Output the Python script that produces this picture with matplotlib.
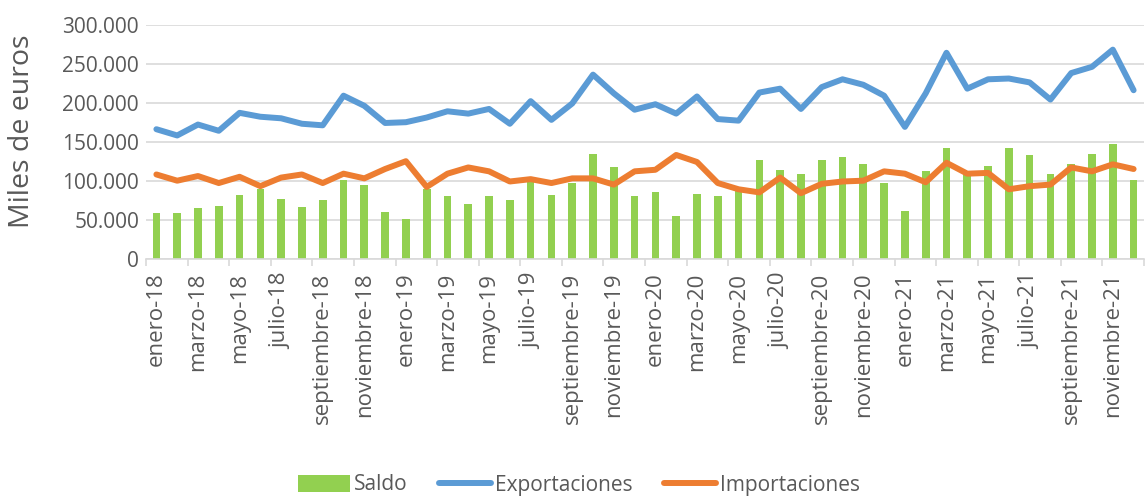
import matplotlib
matplotlib.use("Agg")
import matplotlib.pyplot as plt
from matplotlib.ticker import FuncFormatter
import numpy as np

months = ["enero", "febrero", "marzo", "abril", "mayo", "junio", "julio",
          "agosto", "septiembre", "octubre", "noviembre", "diciembre"]
years = ["18", "19", "20", "21"]
categories = [f"{m}-{y}" for y in years for m in months]

saldo = [58, 58, 65, 67, 82, 90, 76, 66, 75, 101, 94, 60, 51, 90, 80, 70,
         81, 75, 99, 82, 97, 134, 118, 80, 85, 55, 83, 81, 88, 127, 114, 109,
         126, 131, 122, 97, 61, 112, 142, 109, 119, 142, 133, 108, 121, 134, 147, 101]
exportaciones = [166, 158, 172, 164, 187, 182, 180, 173, 171, 209, 196, 174,
                 175, 181, 189, 186, 192, 173, 202, 178, 199, 236, 212, 191,
                 198, 186, 208, 179, 177, 213, 218, 192, 220, 230, 223, 209,
                 169, 212, 264, 218, 230, 231, 226, 204, 238, 246, 268, 216]
importaciones = [108, 100, 106, 97, 105, 93, 104, 108, 97, 109, 103, 115,
                 125, 92, 109, 117, 112, 99, 102, 97, 103, 103, 95, 112,
                 114, 133, 124, 97, 89, 85, 104, 84, 96, 99, 100, 112,
                 109, 98, 123, 109, 110, 89, 93, 95, 117, 112, 121, 115]
scale = 1000  # values read in thousands of "miles de euros"

yticks = [0, 50000, 100000, 150000, 200000, 250000, 300000]

GREEN = "#92D050"
BLUE = "#5B9BD5"
ORANGE = "#ED7D31"
GRID = "#D9D9D9"
TXT = "#595959"

plt.rcParams['font.family'] = ['Open Sans', 'DejaVu Sans']

fig = plt.figure(figsize=(11.45, 4.96), dpi=100)
ax = fig.add_axes([146/1145, 1-258.7/496, 998/1145, 234/496])

x = np.arange(len(categories))
b = ax.bar(x, np.array(saldo) * scale, width=0.37, color=GREEN, label="Saldo", zorder=2)
l1, = ax.plot(x, np.array(exportaciones) * scale, color=BLUE, lw=4.3, label="Exportaciones",
              zorder=3, solid_joinstyle='round', solid_capstyle='round')
l2, = ax.plot(x, np.array(importaciones) * scale, color=ORANGE, lw=4.3, label="Importaciones",
              zorder=3, solid_joinstyle='round', solid_capstyle='round')

ax.set_xlim(-0.5, len(categories) - 0.5)
ax.set_ylim(0, 300000)
ax.set_yticks(yticks)
ax.yaxis.set_major_formatter(FuncFormatter(lambda v, p: f"{int(v):,}".replace(",", ".")))
ax.grid(axis='y', color=GRID, lw=1.2, zorder=0)
ax.set_axisbelow(True)

ax.set_xticks(x[::2])
ax.set_xticklabels(categories[::2], rotation=90, fontsize=16, color=TXT)
ax.set_xticks(np.arange(-0.5, len(categories), 2), minor=True)
ax.tick_params(axis='x', which='major', length=0, pad=10)
ax.tick_params(axis='x', which='minor', length=5, color=GRID, width=1.2)
ax.tick_params(axis='y', length=0, pad=5, labelsize=15, labelcolor=TXT)

for s in ['top', 'right', 'left']:
    ax.spines[s].set_visible(False)
ax.spines['bottom'].set_color(GRID)
ax.spines['bottom'].set_linewidth(1.2)

fig.text(22/1145, 1-131/496, "Miles de euros", rotation=90, ha='center', va='center',
         fontsize=20.5, color=TXT)

leg = fig.legend([b, l1, l2], ["Saldo", "Exportaciones", "Importaciones"],
                 loc='center', bbox_to_anchor=(579/1145, 1-485/496), ncol=3,
                 frameon=False, fontsize=15, handlelength=2.5, handleheight=0.9,
                 handletextpad=0.2, columnspacing=1.5, borderpad=0)
for t in leg.get_texts():
    t.set_color(TXT)

fig.savefig("out.png", dpi=100)
